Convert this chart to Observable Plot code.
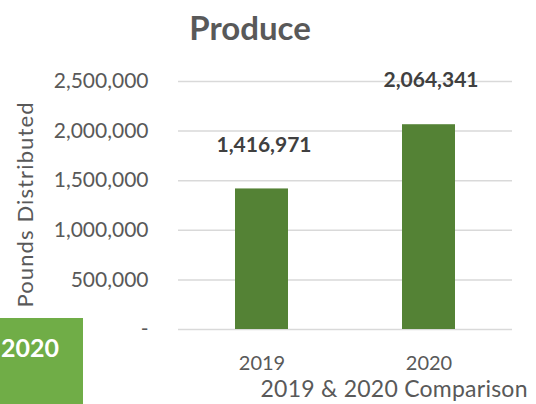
<!DOCTYPE html>
<html><head><meta charset="utf-8">
<script src="https://cdn.jsdelivr.net/npm/d3@7"></script>
<script src="https://cdn.jsdelivr.net/npm/@observablehq/plot@0.6"></script>
<style>body{margin:0;background:#fff;} #chart{position:relative;width:536px;height:404px;overflow:hidden;}</style>
</head><body><div id="chart"></div>
<script>
const years = ["2019", "2020"];
const pounds = [1416971, 2064341];
const yTicks = [0, 500000, 1000000, 1500000, 2000000, 2500000];
const title = "Produce";
const xTitle = "2019 & 2020 Comparison";
const yTitle = "Pounds Distributed";
const badgeText = "2020";

const data = years.map((y, i) => ({year: y, pounds: pounds[i]}));
const fmt = d3.format(",");
const plot = Plot.plot({
  width: 536, height: 404,
  marginLeft: 178, marginRight: 24, marginTop: 81, marginBottom: 75,
  style: {fontFamily: "Lato, sans-serif", fontSize: "20px", color: "#595959", background: "#fff"},
  x: {domain: years, paddingInner: 0.68, paddingOuter: 0.34},
  y: {domain: [0, 2500000]},
  marks: [
    Plot.gridY(yTicks.slice(1), {stroke: "#d9d9d9", strokeOpacity: 1, strokeWidth: 1.5}),
    Plot.ruleY([0], {stroke: "#d9d9d9", strokeWidth: 1.5}),
    Plot.barY(data, {x: "year", y: "pounds", fill: "#548235"}),
    Plot.axisY(yTicks, {tickSize: 0, tickPadding: 30, tickFormat: d => d === 0 ? "-" : fmt(d), label: null, fill: "#595959", fontSize: 21}),
    Plot.axisX({tickSize: 0, tickPadding: 26, label: null, fill: "#595959"}),
    Plot.text(data, {x: "year", y: "pounds", text: d => fmt(d.pounds), dy: -44, dx: 2, fontWeight: "bold", fill: "#404040", fontSize: 21})
  ]
});
document.getElementById("chart").appendChild(plot);
const svg = d3.select(plot);
svg.append("text").text(title)
  .attr("x", 250).attr("y", 40).attr("text-anchor", "middle")
  .attr("font-weight", "bold").attr("font-size", 33).attr("fill", "#595959");
svg.append("text").text(xTitle)
  .attr("x", 394).attr("y", 397).attr("text-anchor", "middle")
  .attr("font-size", 23).attr("fill", "#595959")
  .attr("textLength", 267).attr("lengthAdjust", "spacing");
svg.append("text").text(yTitle)
  .attr("transform", "translate(33,205) rotate(-90)").attr("text-anchor", "middle")
  .attr("font-size", 22).attr("fill", "#595959")
  .attr("textLength", 205).attr("lengthAdjust", "spacing");
svg.append("rect").attr("x", 0).attr("y", 318).attr("width", 83).attr("height", 86).attr("fill", "#70ad47");
svg.append("text").text(badgeText)
  .attr("x", 1).attr("y", 357).attr("text-anchor", "start")
  .attr("font-weight", "bold").attr("font-size", 25).attr("fill", "#fff");
</script>
</body></html>
